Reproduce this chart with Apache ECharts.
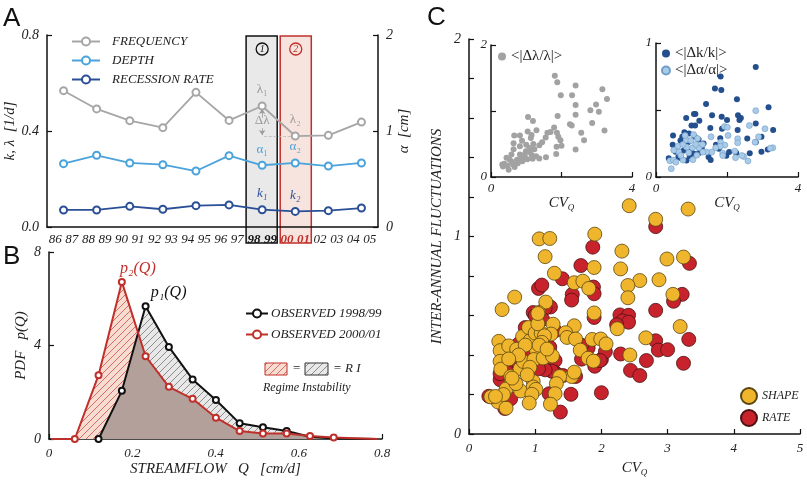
<!DOCTYPE html>
<html lang="en">
<head>
<meta charset="UTF-8">
<title>Regime instability</title>
<script src="https://cdn.jsdelivr.net/npm/echarts@6/dist/echarts.min.js"></script>
<style>
  html, body { margin: 0; padding: 0; background: #fff; }
  #chart { width: 807px; height: 482px; }
</style>
</head>
<body>
<div id="chart"></div>
<script>
// ---- panel A : yearly parameters ----
const years = ['86','87','88','89','90','91','92','93','94','95','96','97','98','99','00','01','02','03','04','05'];
const seasonStart = ['86','88','90','92','94','96','98','00','02','04'];
const frequency = [0.568, 0.492, 0.443, 0.414, 0.561, 0.444, 0.504, 0.379, 0.382, 0.437];
const depth = [0.66, 0.747, 0.667, 0.649, 0.583, 0.743, 0.643, 0.667, 0.635, 0.667];
const recession = [0.071, 0.071, 0.086, 0.074, 0.089, 0.092, 0.072, 0.065, 0.068, 0.079];

// ---- panel B : streamflow pdfs ----
const binQ = [0.005, 0.062, 0.119, 0.175, 0.232, 0.288, 0.345, 0.401, 0.458, 0.514, 0.571, 0.627, 0.684, 0.79];
const pdf9899 = [null, null, 0, 2.06, 5.68, 3.94, 2.55, 1.67, 0.67, 0.50, 0.34, 0.10, 0.02, 0];
const pdf0001 = [0, 0, 2.73, 6.72, 3.54, 2.23, 1.72, 0.91, 0.34, 0.24, 0.24, 0.13, 0.06, 0];

// ---- panel C : fluctuations vs CV_Q ----
const shapePts = [[2.42,1.156],[3.31,1.139],[2.82,1.087],[2.99,0.886],[3.24,0.896],[2.31,0.926],[2.29,0.836],[1.90,1.012],[1.06,0.988],[1.22,0.990],[1.15,0.898],[1.29,0.814],[1.89,0.843],[2.58,0.777],[2.87,0.781],[2.40,0.752],[2.40,0.690],[1.59,0.766],[1.72,0.774],[1.81,0.737],[3.08,0.707],[0.69,0.693],[0.50,0.630],[1.16,0.668],[1.89,0.613],[1.05,0.615],[1.27,0.556],[2.24,0.533],[3.19,0.544],[1.59,0.548],[1.46,0.513],[1.48,0.489],[1.61,0.481],[1.86,0.479],[1.99,0.481],[2.07,0.456],[2.67,0.487],[1.68,0.425],[1.80,0.384],[1.88,0.369],[2.43,0.400],[1.55,0.291],[1.59,0.313],[1.37,0.291],[1.32,0.255],[1.30,0.204],[1.23,0.151],
  [0.45,0.469],[0.47,0.422],[0.60,0.446],[0.72,0.429],[0.47,0.368],[0.48,0.328],[0.63,0.291],[0.64,0.266],[0.56,0.228],[0.44,0.162],[0.56,0.131],[0.33,0.188],[0.78,0.218],[0.77,0.330],[0.82,0.367],[0.81,0.494],[0.92,0.472],[0.90,0.539],[1.00,0.511],[1.09,0.511],[1.04,0.558],[1.04,0.610],[1.02,0.422],[0.98,0.377],[1.12,0.385],[1.26,0.395],[0.92,0.338],[0.97,0.266],[0.97,0.238],[1.01,0.226],[0.95,0.201],[0.91,0.157],[1.24,0.506],[1.14,0.497],[1.10,0.464],[0.71,0.255],[0.65,0.283],[0.85,0.45],[0.75,0.40],[0.52,0.20],[0.40,0.19],[0.88,0.30],[1.06,0.45],[1.18,0.43],[0.60,0.38]];
const ratePts = [[1.87,0.946],[1.69,0.853],[1.41,0.786],[1.05,0.737],[1.10,0.754],[1.56,0.707],[1.55,0.678],[1.88,0.744],[1.89,0.710],[1.23,0.643],[1.89,0.590],[2.82,1.050],[3.33,0.864],[3.22,0.707],[3.09,0.672],[2.82,0.626],[2.28,0.603],[2.41,0.601],[2.32,0.573],[2.41,0.566],[2.23,0.553],[3.32,0.479],[2.82,0.472],[2.86,0.425],[3.00,0.427],[2.29,0.405],[3.24,0.358],[2.68,0.372],[2.44,0.322],[2.58,0.296],[2.00,0.377],[2.06,0.417],[1.80,0.436],[1.70,0.379],[1.90,0.343],[1.98,0.372],[1.30,0.523],[0.95,0.539],
  [0.30,0.191],[0.54,0.129],[0.63,0.178],[0.47,0.275],[0.47,0.305],[0.62,0.355],[0.68,0.372],[0.85,0.539],[0.97,0.615],[1.15,0.637],[1.11,0.581],[1.22,0.439],[1.30,0.372],[1.29,0.313],[1.34,0.300],[1.25,0.318],[1.15,0.325],[1.05,0.330],[1.21,0.204],[1.38,0.111],[1.54,0.201],[2.00,0.209],[1.61,0.291],[1.42,0.296],[0.75,0.456],[0.82,0.405],[0.74,0.363],[0.87,0.355],[0.59,0.405],[1.00,0.60],[0.90,0.52],[1.70,0.45]];
const lambdaPts = [[1.81,1.535],[1.88,1.435],[2.40,1.385],[3.16,1.33],[1.98,1.24],[2.30,1.24],[3.29,1.18],[2.40,1.09],[2.98,1.10],[2.82,1.01],[3.06,0.99],[1.89,0.925],[2.40,0.945],[1.05,0.91],[1.19,0.85],[2.24,0.80],[2.29,0.78],[2.87,0.82],[1.79,0.75],[1.29,0.71],[1.04,0.69],[2.56,0.67],[3.22,0.705],[0.66,0.63],[0.82,0.63],[1.69,0.68],[1.60,0.67],[1.87,0.67],[1.15,0.635],[1.13,0.59],[1.55,0.60],[1.91,0.61],[0.88,0.55],[0.64,0.51],[1.45,0.525],[1.97,0.555],[2.64,0.555],[1.00,0.49],[1.20,0.50],[1.37,0.48],[0.82,0.465],[1.86,0.46],[2.00,0.475],[2.40,0.415],[0.64,0.42],[0.99,0.39],[1.11,0.375],[1.23,0.42],[0.58,0.34],[0.82,0.34],[0.96,0.34],[1.16,0.33],[1.28,0.315],[1.85,0.35],[1.56,0.30],[1.37,0.28],[0.44,0.29],[0.53,0.26],[0.74,0.26],[0.86,0.28],[1.03,0.27],[0.38,0.20],[0.34,0.16],[0.47,0.17],[0.63,0.19],[0.76,0.21],[0.89,0.24],[0.50,0.11],[0.67,0.15],[0.32,0.19],[0.59,0.23],[0.95,0.28],[1.09,0.44],[1.18,0.275]];
const kPts = [[2.81,0.82],[1.82,0.75],[1.66,0.66],[1.84,0.65],[2.28,0.58],[3.17,0.52],[1.41,0.545],[1.11,0.47],[1.07,0.47],[0.85,0.44],[1.22,0.42],[1.58,0.46],[1.85,0.45],[2.31,0.46],[2.39,0.44],[2.35,0.425],[2.00,0.425],[2.81,0.40],[1.00,0.385],[1.10,0.385],[1.53,0.366],[1.86,0.36],[2.30,0.35],[3.30,0.35],[0.80,0.334],[0.93,0.324],[0.48,0.31],[0.74,0.30],[1.09,0.30],[1.81,0.29],[2.57,0.287],[2.97,0.30],[1.20,0.28],[2.81,0.26],[1.34,0.25],[1.69,0.24],[0.47,0.24],[2.06,0.186],[2.64,0.178],[0.55,0.188],[0.78,0.198],[0.99,0.19],[1.21,0.18],[1.48,0.15],[1.54,0.126],[1.98,0.158],[2.26,0.18],[0.36,0.139],[0.63,0.15],[0.86,0.124],[1.07,0.173],[0.71,0.139],[0.95,0.156],[1.29,0.218],[1.77,0.21],[0.90,0.26],[0.69,0.272],[2.97,0.188],[3.15,0.205]];
const alphaPts = [[2.81,0.495],[3.07,0.36],[2.63,0.384],[1.93,0.376],[2.01,0.371],[1.55,0.30],[2.03,0.31],[2.30,0.285],[2.79,0.26],[2.89,0.30],[2.30,0.255],[1.82,0.26],[1.94,0.238],[1.81,0.23],[1.68,0.218],[1.57,0.186],[1.42,0.186],[1.88,0.178],[1.88,0.16],[2.22,0.193],[2.47,0.153],[2.42,0.16],[2.24,0.144],[2.59,0.119],[3.29,0.218],[3.22,0.215],[0.43,0.062],[0.39,0.121],[0.49,0.126],[0.56,0.111],[0.76,0.126],[1.04,0.129],[1.15,0.163],[1.32,0.186],[1.21,0.218],[1.03,0.218],[0.86,0.223],[0.62,0.23],[0.76,0.243],[0.85,0.277],[0.98,0.272],[1.06,0.317],[1.17,0.287],[1.31,0.243],[0.82,0.31],[0.64,0.186],[0.92,0.181],[1.12,0.243],[0.50,0.20],[0.70,0.161]];

const SERIF = 'Liberation Serif, DejaVu Serif, serif';
const RED = '#c0302b';
const ital = { fontFamily: SERIF, fontStyle: 'italic', color: '#222', fontSize: 13 };

function hatch(bg, fg, w) {
  const c = document.createElement('canvas');
  c.width = 7; c.height = 7;
  const g = c.getContext('2d');
  g.fillStyle = bg; g.fillRect(0, 0, 7, 7);
  g.strokeStyle = fg; g.lineWidth = w;
  g.beginPath();
  g.moveTo(0, 7); g.lineTo(7, 0);
  g.moveTo(-1, 1); g.lineTo(1, -1);
  g.moveTo(6, 8); g.lineTo(8, 6);
  g.stroke();
  return { image: c, repeat: 'repeat' };
}
const pinkHatch = hatch('#f8dcd2', '#cf5148', 0.8);
const grayHatch = hatch('#e8e8e8', '#666', 0.7);

// overlap of the two pdfs (min of the two, with crossings)
function minCurve(xs, a, b) {
  const out = [];
  for (let i = 0; i < xs.length; i++) {
    const va = a[i] ?? 0, vb = b[i] ?? 0;
    if (i > 0) {
      const pa = a[i - 1] ?? 0, pb = b[i - 1] ?? 0;
      const d0 = pa - pb, d1 = va - vb;
      if (d0 * d1 < 0) {
        const t = d0 / (d0 - d1);
        out.push([xs[i - 1] + t * (xs[i] - xs[i - 1]), pa + t * (va - pa)]);
      }
    }
    out.push([xs[i], Math.min(va, vb)]);
  }
  return out;
}

const seasonPos = seasonStart.map(s => years.indexOf(s) + 1);
const hl = 6, h2 = 7;  // 1998/99 and 2000/01

function withLabels(vals, color, l1, l2, italic) {
  return vals.map((v, i) => {
    const item = { value: [seasonPos[i], v] };
    if (i === hl || i === h2) {
      item.label = { show: true, position: 'top', distance: 5, formatter: i === hl ? l1 : l2,
        color: color, fontFamily: SERIF, fontStyle: italic ? 'italic' : 'normal', fontSize: 13 };
    }
    return item;
  });
}

function axisBase(extra) {
  return Object.assign({
    axisLine: { show: true, onZero: false, lineStyle: { color: '#111', width: 1.5 } },
    axisTick: { show: true, inside: true, length: 5, lineStyle: { color: '#111', width: 1.2 } },
    splitLine: { show: false },
    axisLabel: Object.assign({}, ital),
    nameTextStyle: Object.assign({}, ital, { fontSize: 15 })
  }, extra);
}

const cvName = {
  name: '{a|CV}{q|Q}',
  nameTextStyle: { rich: {
    a: { fontFamily: SERIF, fontStyle: 'italic', fontSize: 15, color: '#222' },
    q: { fontFamily: SERIF, fontStyle: 'italic', fontSize: 9, color: '#222', padding: [9, 0, 0, 0] }
  } }
};

const p1Data = binQ.map((q, i) => [q, pdf9899[i]]).filter(d => d[1] !== null);
const p2Data = binQ.map((q, i) => [q, pdf0001[i]]);
const p1Peak = p1Data.findIndex(d => d[1] === Math.max(...p1Data.map(e => e[1])));
const p2Peak = pdf0001.indexOf(Math.max(...pdf0001));

const chart = echarts.init(document.getElementById('chart'));
chart.setOption({
  animation: false,
  backgroundColor: '#fff',
  grid: [
    { left: 47, top: 35, width: 331, height: 192 },
    { left: 49, top: 252, width: 333, height: 187 },
    { left: 469, top: 39, width: 331, height: 398 },
    { left: 491, top: 45, width: 141, height: 132 },
    { left: 656, top: 43, width: 142, height: 134 }
  ],
  xAxis: [
    axisBase({ gridIndex: 0, type: 'category', data: years, boundaryGap: true,
      axisTick: { show: false },
      axisLabel: Object.assign({}, ital, { interval: 0, margin: 6, fontSize: 13,
        formatter: v => (v === '98' || v === '99') ? '{b|' + v + '}' : (v === '00' || v === '01') ? '{r|' + v + '}' : v,
        rich: {
          b: { fontFamily: SERIF, fontStyle: 'italic', fontWeight: 'bold', fontSize: 13, color: '#111' },
          r: { fontFamily: SERIF, fontStyle: 'italic', fontWeight: 'bold', fontSize: 13, color: RED }
        } }) }),
    { gridIndex: 0, type: 'value', min: 0, max: years.length, show: false },
    axisBase({ gridIndex: 1, type: 'value', min: 0, max: 0.8, interval: 0.2,
      name: 'STREAMFLOW   Q   [cm/d]', nameLocation: 'middle', nameGap: 23 }),
    axisBase(Object.assign({ gridIndex: 2, type: 'value', min: 0, max: 5, interval: 1, nameLocation: 'middle', nameGap: 25 }, cvName)),
    axisBase(Object.assign({ gridIndex: 3, type: 'value', min: 0, max: 4, interval: 2, nameLocation: 'middle', nameGap: 6,
      axisLabel: Object.assign({}, ital, { margin: 5, formatter: v => v === 2 ? '' : v }) }, cvName)),
    axisBase(Object.assign({ gridIndex: 4, type: 'value', min: 0, max: 4, interval: 2, nameLocation: 'middle', nameGap: 6,
      axisLabel: Object.assign({}, ital, { margin: 5, formatter: v => v === 2 ? '' : v }) }, cvName))
  ],
  yAxis: [
    axisBase({ gridIndex: 0, type: 'value', position: 'left', min: 0, max: 0.8, interval: 0.4,
      axisLabel: Object.assign({}, ital, { fontSize: 14, formatter: v => v.toFixed(1) }),
      name: 'k, λ  [1/d]', nameLocation: 'middle', nameGap: 27, nameRotate: 90 }),
    axisBase({ gridIndex: 0, type: 'value', position: 'right', min: 0, max: 2, interval: 1,
      axisLabel: Object.assign({}, ital, { fontSize: 14 }),
      name: 'α  [cm]', nameLocation: 'middle', nameGap: 15, nameRotate: 90 }),
    axisBase({ gridIndex: 1, type: 'value', min: 0, max: 8, interval: 4,
      axisLabel: Object.assign({}, ital, { fontSize: 14 }),
      name: 'PDF   p(Q)', nameLocation: 'middle', nameGap: 20, nameRotate: 90 }),
    axisBase({ gridIndex: 2, type: 'value', min: 0, max: 2, interval: 0.2,
      axisLabel: Object.assign({}, ital, { fontSize: 14, formatter: v => Math.abs(v - Math.round(v)) < 1e-6 ? Math.round(v) : '' }),
      name: 'INTER-ANNUAL FLUCTUATIONS', nameLocation: 'middle', nameGap: 24, nameRotate: 90 }),
    axisBase({ gridIndex: 3, type: 'value', min: 0, max: 2, interval: 1,
      axisLabel: Object.assign({}, ital, { margin: 4, formatter: v => v === 1 ? '' : v }) }),
    axisBase({ gridIndex: 4, type: 'value', min: 0, max: 1, interval: 0.5,
      axisLabel: Object.assign({}, ital, { margin: 4, formatter: v => v === 0.5 ? '' : v }) })
  ],
  legend: [
    { left: 66, top: 30, orient: 'vertical', itemGap: 6, itemWidth: 28, itemHeight: 10, selectedMode: false,
      data: ['FREQUENCY', 'DEPTH', 'RECESSION RATE'],
      textStyle: Object.assign({}, ital, { fontSize: 13, padding: [0, 0, 0, 7] }) },
    { left: 240, top: 302, orient: 'vertical', itemGap: 8, itemWidth: 22, itemHeight: 10, selectedMode: false,
      data: ['OBSERVED 1998/99', 'OBSERVED 2000/01'],
      textStyle: Object.assign({}, ital, { fontSize: 13, padding: [0, 0, 0, -2] }) },
    { left: 735, top: 382, orient: 'vertical', itemGap: 4, itemWidth: 16, itemHeight: 16, selectedMode: false,
      data: ['SHAPE', 'RATE'], icon: 'circle',
      textStyle: Object.assign({}, ital, { fontSize: 12 }) },
    { left: 493, top: 44, orient: 'vertical', itemWidth: 8, itemHeight: 8, selectedMode: false, icon: 'circle',
      data: ['<|Δλ/λ|>'], textStyle: { fontFamily: SERIF, fontSize: 15, color: '#222' } },
    { left: 656, top: 41, orient: 'vertical', itemGap: 2, itemWidth: 8, itemHeight: 8, selectedMode: false, icon: 'circle',
      data: ['<|Δk/k|>', '<|Δα/α|>'], textStyle: { fontFamily: SERIF, fontSize: 15, color: '#222' } }
  ],
  series: [
    // ---- A ----
    { name: 'FREQUENCY', type: 'line', xAxisIndex: 1, yAxisIndex: 0, data: withLabels(frequency, '#9a9a9a', 'λ₁', 'λ₂'),
      symbol: 'emptyCircle', symbolSize: 7, color: '#a6a6a6', lineStyle: { width: 1.8 }, itemStyle: { borderWidth: 1.6 }, z: 5,
      markLine: { silent: true, symbol: ['none', 'arrow'], symbolSize: 5, label: { show: false },
        lineStyle: { color: '#9a9a9a', width: 0.8, type: 'solid' },
        data: [
          [{ coord: [13, 0.455] }, { coord: [13, 0.492] }],
          [{ coord: [13, 0.412] }, { coord: [13, 0.383] }],
          [{ coord: [13.1, 0.379], symbol: 'none', lineStyle: { type: 'dashed', color: '#bbb' } }, { coord: [15, 0.379], symbol: 'none' }]
        ] } },
    { name: 'DEPTH', type: 'line', xAxisIndex: 1, yAxisIndex: 1, data: withLabels(depth, '#4aa3da', 'α₁', 'α₂'),
      symbol: 'emptyCircle', symbolSize: 7, color: '#4aa3da', lineStyle: { width: 1.8 }, itemStyle: { borderWidth: 1.6 }, z: 5 },
    { name: 'RECESSION RATE', type: 'line', xAxisIndex: 1, yAxisIndex: 0, data: withLabels(recession, '#2b4f96', 'k₁', 'k₂', true),
      symbol: 'emptyCircle', symbolSize: 7, color: '#2b4f96', lineStyle: { width: 1.8 }, itemStyle: { borderWidth: 1.6 }, z: 5 },
    // ---- B ----
    { type: 'line', xAxisIndex: 2, yAxisIndex: 2, data: p1Data, showSymbol: false, silent: true,
      lineStyle: { width: 0 }, areaStyle: { color: grayHatch, opacity: 1 }, z: 1 },
    { type: 'line', xAxisIndex: 2, yAxisIndex: 2, data: p2Data, showSymbol: false, silent: true,
      lineStyle: { width: 0 }, areaStyle: { color: pinkHatch, opacity: 1 }, z: 2 },
    { type: 'line', xAxisIndex: 2, yAxisIndex: 2, data: minCurve(binQ, pdf9899, pdf0001), showSymbol: false, silent: true,
      lineStyle: { width: 0 }, areaStyle: { color: '#b4a09b', opacity: 1 }, z: 3 },
    { name: 'OBSERVED 1998/99', type: 'line', xAxisIndex: 2, yAxisIndex: 2, color: '#111',
      data: p1Data.map((d, i) => i === p1Peak ? { value: d, label: { show: true, position: 'top', offset: [23, 4],
        formatter: 'p₁(Q)', fontFamily: SERIF, fontStyle: 'italic', fontSize: 16, color: '#111' } } : d),
      symbol: 'emptyCircle', symbolSize: (v, p) => p.dataIndex <= 8 ? 6 : 0,
      lineStyle: { width: 2 }, itemStyle: { borderWidth: 1.4 }, z: 6 },
    { name: 'OBSERVED 2000/01', type: 'line', xAxisIndex: 2, yAxisIndex: 2, color: RED,
      data: p2Data.map((d, i) => i === p2Peak ? { value: d, label: { show: true, position: 'top', offset: [16, 4],
        formatter: 'p₂(Q)', fontFamily: SERIF, fontStyle: 'italic', fontSize: 16, color: RED } } : d),
      symbol: 'emptyCircle', symbolSize: (v, p) => (p.dataIndex >= 1 && p.dataIndex <= 12) ? 6 : 0,
      lineStyle: { width: 2 }, itemStyle: { borderWidth: 1.4 }, z: 7 },
    // ---- C ----
    { name: 'RATE', type: 'scatter', xAxisIndex: 3, yAxisIndex: 3, data: ratePts, symbolSize: 14,
      itemStyle: { color: '#c8232c', borderColor: '#4c1212', borderWidth: 0.8, opacity: 1 }, z: 4 },
    { name: 'SHAPE', type: 'scatter', xAxisIndex: 3, yAxisIndex: 3, data: shapePts, symbolSize: 14,
      itemStyle: { color: '#efb52d', borderColor: '#5a4610', borderWidth: 0.8, opacity: 1 }, z: 5 },
    { name: '<|Δλ/λ|>', type: 'scatter', xAxisIndex: 4, yAxisIndex: 4, data: lambdaPts, symbolSize: 6,
      itemStyle: { color: '#a2a2a2', opacity: 1 } },
    { name: '<|Δk/k|>', type: 'scatter', xAxisIndex: 5, yAxisIndex: 5, data: kPts, symbolSize: 6,
      itemStyle: { color: '#234f8e', opacity: 1 } },
    { name: '<|Δα/α|>', type: 'scatter', xAxisIndex: 5, yAxisIndex: 5, data: alphaPts, symbolSize: 6,
      itemStyle: { color: '#a9cbe8', borderColor: '#6f9ec9', borderWidth: 0.6, opacity: 1 } }
  ]
});

// decorations that depend on the axes
const px = v => chart.convertToPixel({ xAxisIndex: 1 }, v);
const pyA = v => chart.convertToPixel({ yAxisIndex: 0 }, v);
const boxTop = pyA(0.8) + 1, boxBot = pyA(0) + 16;
const b1 = [px(years.indexOf('98')), px(years.indexOf('00'))];
const b2 = [px(years.indexOf('00')), px(years.indexOf('02'))];
const lambdaMid = pyA((frequency[hl] + frequency[h2]) / 2);
const letter = (t, x, y) => ({ type: 'text', x: x, y: y, silent: true,
  style: { text: t, font: '26px Liberation Sans, Arial, sans-serif', fill: '#111' } });

chart.setOption({
  graphic: [
    { type: 'rect', z: -1, silent: true, shape: { x: b1[0] + 0.5, y: boxTop, width: b1[1] - b1[0] - 2, height: boxBot - boxTop },
      style: { fill: '#e9e9e9', stroke: '#111', lineWidth: 1.5 } },
    { type: 'rect', z: -1, silent: true, shape: { x: b2[0] + 1.5, y: boxTop, width: b2[1] - b2[0] - 2, height: boxBot - boxTop },
      style: { fill: '#f7e4df', stroke: RED, lineWidth: 1.5 } },
    { type: 'circle', silent: true, shape: { cx: (b1[0] + b1[1]) / 2, cy: 49, r: 6 }, style: { fill: 'none', stroke: '#111', lineWidth: 1.3 } },
    { type: 'text', silent: true, x: (b1[0] + b1[1]) / 2, y: 49,
      style: { text: '1', font: 'italic 10px ' + SERIF, fill: '#111', align: 'center', verticalAlign: 'middle' } },
    { type: 'circle', silent: true, shape: { cx: (b2[0] + b2[1]) / 2 + 0.5, cy: 49, r: 6 }, style: { fill: 'none', stroke: RED, lineWidth: 1.3 } },
    { type: 'text', silent: true, x: (b2[0] + b2[1]) / 2 + 0.5, y: 49,
      style: { text: '2', font: 'italic 10px ' + SERIF, fill: RED, align: 'center', verticalAlign: 'middle' } },
    { type: 'text', silent: true, x: px(13), y: lambdaMid,
      style: { text: 'Δλ', font: '13px ' + SERIF, fill: '#9a9a9a', align: 'center', verticalAlign: 'middle' } },
    letter('A', 3, 6), letter('B', 3, 244), letter('C', 427, 5),
    // hatch key in B
    { type: 'rect', silent: true, shape: { x: 265, y: 363, width: 22, height: 12 }, style: { fill: pinkHatch, stroke: RED, lineWidth: 1 } },
    { type: 'text', silent: true, x: 293, y: 369, style: { text: '=', font: '13px ' + SERIF, fill: '#222', verticalAlign: 'middle' } },
    { type: 'rect', silent: true, shape: { x: 305, y: 363, width: 23, height: 12 }, style: { fill: grayHatch, stroke: '#333', lineWidth: 1 } },
    { type: 'text', silent: true, x: 333, y: 369, style: { text: '= R I', font: 'italic 13px ' + SERIF, fill: '#222', verticalAlign: 'middle' } },
    { type: 'text', silent: true, x: 263, y: 388, style: { text: 'Regime Instability', font: 'italic 12px ' + SERIF, fill: '#222', verticalAlign: 'middle' } }
  ]
});
</script>
</body>
</html>
